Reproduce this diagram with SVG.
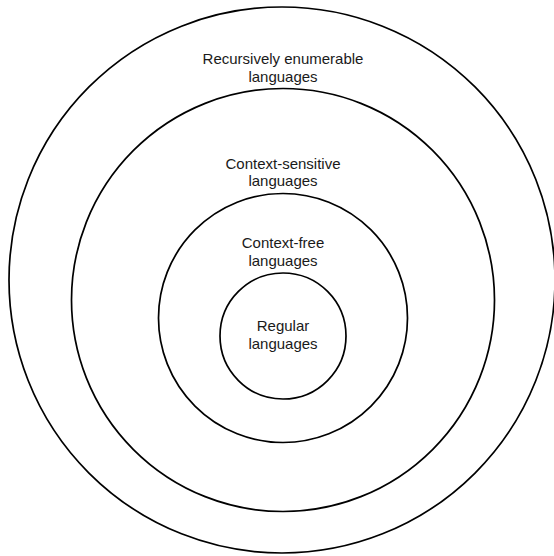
<svg xmlns="http://www.w3.org/2000/svg" width="554" height="556" viewBox="0 0 554 556">
<style>
.ring{fill:none;stroke:#000;stroke-width:1.7}
.lbl{font-family:"Liberation Sans",Arial,sans-serif;font-size:15px;fill:#1a1a1a;text-anchor:middle}
</style>
<rect width="554" height="556" fill="#fff"/>
<g id="re">
<circle class="ring" cx="282" cy="280" r="273"/>
<text class="lbl" x="283" y="64">Recursively enumerable</text>
<text class="lbl" x="283" y="81.5">languages</text>
</g>
<g id="cs">
<circle class="ring" cx="283" cy="300" r="211.5"/>
<text class="lbl" x="283" y="169">Context-sensitive</text>
<text class="lbl" x="283" y="186">languages</text>
</g>
<g id="cf">
<circle class="ring" cx="283" cy="318" r="124.5"/>
<text class="lbl" x="283" y="248">Context-free</text>
<text class="lbl" x="283" y="265.5">languages</text>
</g>
<g id="reg">
<circle class="ring" cx="283" cy="336" r="63"/>
<text class="lbl" x="283" y="331">Regular</text>
<text class="lbl" x="283" y="348.5">languages</text>
</g>
<g id="connectors"></g>
</svg>
